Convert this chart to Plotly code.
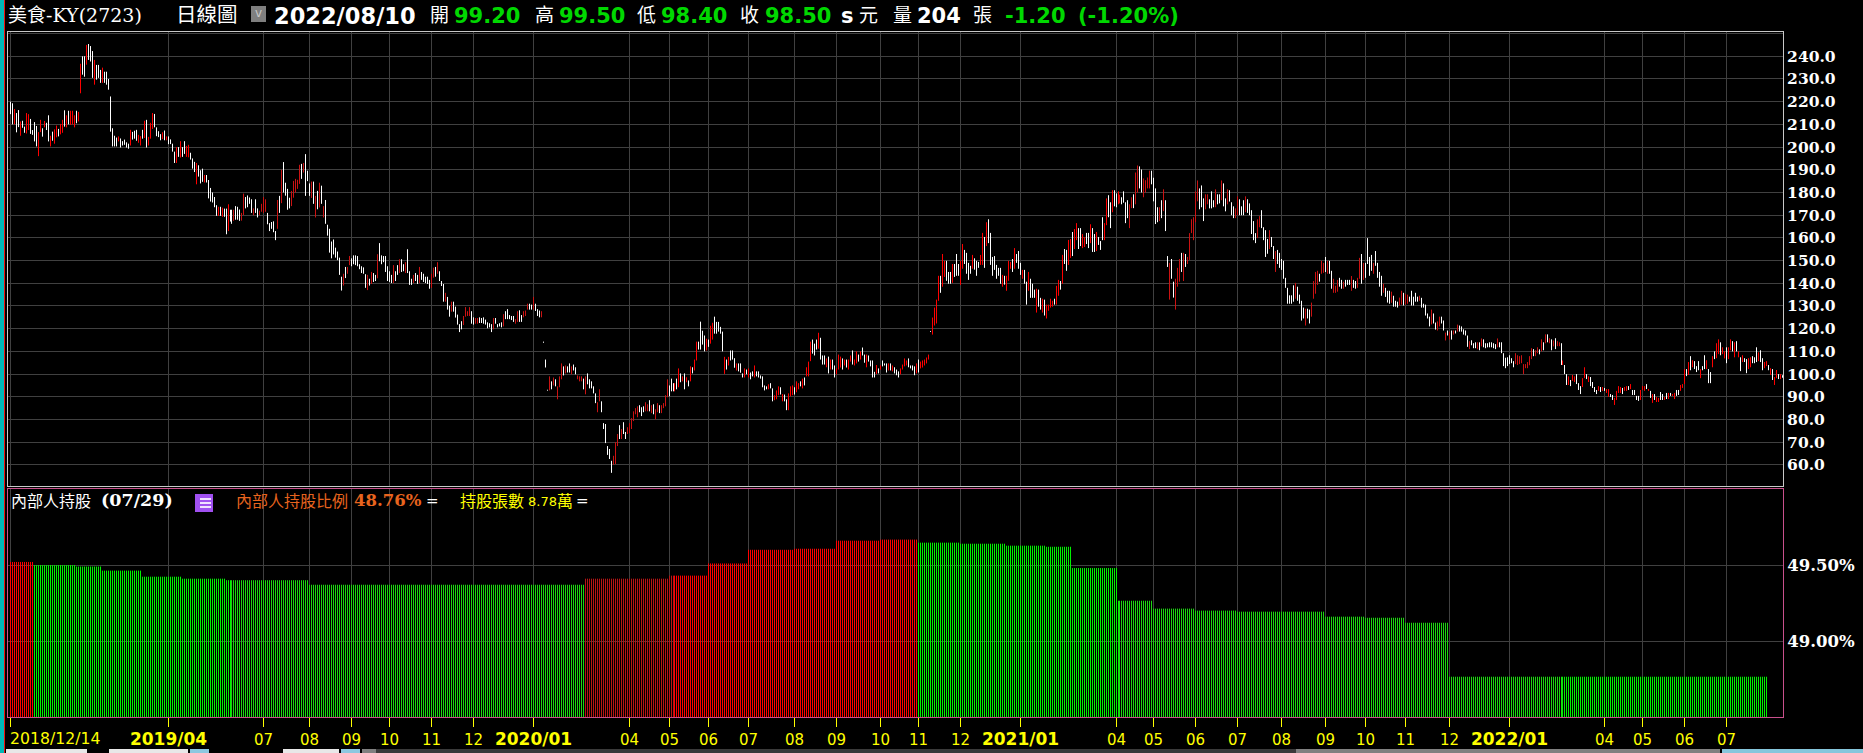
import numpy as np
import plotly.graph_objects as go

# ---------- daily price range (high, low) and candle colour, r = up, w = down ----------
high = [220,219.3,216.8,215,216.3,211.3,211.6,209,215,214.5,212.4,207.5,211,209.3,206.6,212,208.3,211.5,210.7,214]
low = [214.5,210,210,206.5,208.8,205,208.5,206.3,206,207.5,205.8,205.4,202.5,200.3,196,206.6,204.6,208.7,207.5,202.5]
flag = "wwrwwrwwrrwwwwrrwrww"
high += [205,206.8,207.8,209.5,208,210.2,212,216.2,214,216,216,216,214,216,215.5,236.7,240,240,245,245.4]
low += [200.3,202.8,201.5,204.3,204.7,205.6,206.3,209,208.7,210,209.8,210,208.7,210.5,211.3,223.7,231.9,231,236.3,238.4]
flag += "rwrrwrrwrwrrrwrrwwrw"
high += [244.5,242.3,238.4,236.2,236.2,234,235,233.2,233.2,230,222.3,208.3,205,204.2,204.7,203.8,202.6,203.3,202.1,201.5]
low += [237.7,230.5,227.5,229.7,230.5,228.3,228.3,228.3,227.5,225.3,206.8,200.3,200.3,200.3,202.5,199.8,200.7,201,199.8,199.3]
flag += "wwrwwwrwwwwwwwrwwwww"
high += [207.6,206.7,207.2,207.6,205.4,204.8,207.6,211.6,212,204.5,210.7,215,214.6,208.7,207,205.7,206.5,207.3,204.7,204.7]
low += [200.7,203.3,203.7,202.8,201.9,200.7,203.7,204,199.8,200.7,203.7,208,208.7,204.8,204.4,203,203.5,203,203,201.3]
flag += "rwwwrrwrwrrrwwwwrwrw"
high += [203.4,201.5,198,200,200,202.6,200,202.6,200.5,201,197.5,195,193.5,193,192,189.8,190.5,187.7,187.7,185.5]
low += [201.3,198,193,193,195.7,195.4,195.7,197,195.7,195.5,194.5,190.5,189,183.6,187,184,184.7,184.4,184.4,177.4]
flag += "wwwrwrwwrrwwwrwwwrww"
high += [182,180,178,174.4,173.7,173.7,173.3,172.9,172.9,174.8,172.4,172.4,172.4,174,173.7,172.5,171,179.5,178,178.7]
low += [176,175.6,173.5,169.7,169.7,169.7,169.3,169.3,161.6,163,167.2,166.2,167.5,168,168,167.5,167.6,170.1,173,173.5]
flag += "wwwwrwrwwrwwrwwwrrww"
high += [177.8,177,173,177,173,172,175,178,177,171,166.5,167,167.3,163,176.7,178.5,190,193.4,184.3,181.6]
low += [175,171,170,171,169,170,171.5,171,171.5,166,163,164,162.5,159,164,171,175.3,180,178.6,172.4]
flag += "wwrwwrrrrwwwwwrwrwww"
high += [177.7,180.7,185.1,186,185.6,192.2,192.6,193,196.9,189.6,184,184.8,184.8,178.5,180.7,184.3,183,174,176.7,165.8]
low += [173,174,177.7,180,181.6,183.8,186,188.8,178.5,185,178.5,177.6,175,169,172.6,173.4,175,169,166.2,161]
flag += "wrrrrrwrwwwrwrwrwrww"
high += [164,158.4,159.3,155.7,154,151.3,142.9,144.2,147.2,147.2,152,151,152.3,152.3,152,148.4,147.5,147,144,143.7]
low += [153.5,151,152.7,151.3,150.2,143.7,136.8,139,142.3,144.2,148,147.5,148.4,148,147.5,146.2,144.5,144.2,138,137]
flag += "wwwwwwwrwrrwwwwwwwwr"
high += [142,145,144.5,143.7,152.8,157.7,152.3,152,152,147.5,145.3,143.7,148,145.3,148,150.6,150.6,148.4,149.3,155]
low += [139,139.7,140.6,141,142.2,149.7,148.4,149.3,145,141,140.6,140.1,140.1,141,143.7,144.5,145,145.3,144.5,144.5]
flag += "wrwwrwwwwwwwrwwrwwrw"
high += [145.3,142,143.7,144.5,143.7,147.2,145,144.2,142.9,142.9,141.5,144.2,146.9,147.2,149.3,145.3,141,139.7,135.8,134]
low += [139.3,139.3,140.1,141,139.7,140.1,141.5,140.6,140.1,139.7,137.6,138,142.5,142.9,144.2,141,138.8,131.9,131.9,128.4]
flag += "wwrwwrwwwwwrrwrwwwrw"
high += [130.1,131.9,131.9,129.7,126.2,122,123.3,125.6,129.5,127.7,129.5,127.7,125,124.7,124.7,125,124.7,125,124,122.8]
low += [125.3,127.5,127.5,124.9,121.8,118.5,119.7,121.6,125.3,125.6,125.6,122.2,121.8,122.2,122.2,122.5,122.5,122.2,121.8,120.2]
flag += "wrwwwwwrrrrwwrrwwwww"
high += [122.4,122,124.7,124.7,122,122.4,122.8,126.4,127.7,128.6,126,125.6,125.6,124.2,127.7,128.1,126,127.7,128,131]
low += [120.6,118.5,119.7,122.2,120.6,121,120.6,121,124.2,124.2,124.2,123.8,123,122.2,123,123,123,125,125.6,128.4]
flag += "wwrwwwwrwwwwwrrwwrrr"
high += [131,130.6,134,131,128.6,128,127.7,114.3,106.4,93.1,99,96.8,98.5,97.7,94.6,99,104.7,103.4,103.8,103.4]
low += [128.4,128.4,128.4,127.8,125.6,125,125,113.8,102.9,92.7,92.8,93.3,95,94.6,88.9,94.2,97.7,99.4,100.3,100.7]
flag += "wwrwwwrwwwrwrwrrrwrw"
high += [104.7,103.4,104.2,103,99.4,99,99,98,99,100.3,97.7,96.8,94.6,91.5,87.6,93.3,88,78.4,78,68.3]
low += [100.7,99.9,101.6,99.9,97.7,96.8,96.8,93.3,91.1,95.5,93.7,93.7,91.5,87.2,83.2,88,83.2,75.8,69.6,64.4]
flag += "wrwwrrrwrwwwwwrrwwww"
high += [67,61.8,64,70,73.6,77.5,75.8,78.8,74.5,76.6,78.4,80.6,83.6,85,85.8,86.3,85.4,85.8,87.6,86.7]
low += [62.6,56.5,60,60.4,68.3,71.4,71.4,73.6,71.4,73.6,74,75.8,79.3,82.3,81,83.2,81.5,83.2,83.6,83.6]
flag += "wwrrrwrwwrrrrrrwwwrr"
high += [88.5,86.3,86.7,84.5,87.2,86.3,86.3,87.2,90.7,97.7,95,98,96,96,98,102.5,100.3,99,100.3,98.6]
low += [83.6,82.8,82.3,80.1,83.2,82.8,82.8,85,85.8,89.8,90.2,92.4,92.4,92.4,93.3,94.2,96.4,96.8,93.3,96.4]
flag += "wrwrrwrrrrwwwrwrwrwr"
high += [97.2,103.4,103,106.4,114.3,114.3,123.1,119.1,117,115.6,115.2,121.3,122.6,125.3,123,123,120.8,118.7,107.6,106.4]
low += [94.6,96.8,100.3,101.6,106,110.8,110.8,113,110,110.4,112,113.4,115.2,117.8,117.8,118.7,117.8,110,100.1,102]
flag += "wrwrrwwwwrwrrwwwwwrw"
high += [107.6,110.4,110.4,107,104.7,104.7,104.7,100.3,102.5,102,102.5,100.7,101.2,103.8,101.2,101.2,99.4,99,95,94.6]
low += [103.8,106,106.4,102.8,101.6,101.2,100.6,98.5,98.5,99.9,98.5,97.7,99,98.5,99,98.5,98,94.2,92.8,93.3]
flag += "rwwwrwwwrwrwwrwwwwww"
high += [95.5,96,93.7,90.7,92.8,94.6,94.2,91.2,91,88.9,91.5,94.6,95,94.2,96.8,96,96.8,98,98.5,103]
low += [93.3,93.7,88,88.5,88.9,90.7,91,88,88,84.1,84.1,90.2,90.7,91,92,93.3,94.6,93.7,95,99]
flag += "rwwrrrwrwwrrrwrrwrwr"
high += [105.5,114.3,115.2,113.4,115.2,118.2,116,108.2,108.2,106.9,107.7,106.4,106.4,103.8,102.5,108.6,107.7,106.9,106.4,106.4]
low += [99,105.7,109,108.2,110.8,111.2,106.4,104.2,104.2,103,100.3,102,102,98.5,99.9,102,102.9,102,103.8,102.9]
flag += "rrwwwrwwwrwrwwrrrwrw"
high += [106.4,108.2,110.4,106.4,110,108.6,110,111.7,108.6,108.6,108.2,106,106,101,104,102.5,103.8,106,104.7,104.7]
low += [102,105.5,104.2,103.8,104.7,105.5,106.4,108.2,105,103,105.5,103.4,98.5,98.5,100,100.3,102,103.4,103.8,100.7]
flag += "rrwrrwrwwrwwwwrwrwww"
high += [104.7,104.7,103.8,103,102,101.2,102.5,104.2,106.9,106,106.9,103.8,103.8,103.4,104.7,106.4,105.5,106,106.4,107.3]
low += [101.6,101.6,101.2,100.3,99.5,98.5,99.9,102,103.4,103.8,103,102.5,101.6,99.5,100.3,100.7,102.5,102.9,103.8,104.7]
flag += "rwrwwwrrrrwwwwrwrrrr"
high += [108.6,119,124.9,129.3,132.8,143.3,143.3,152.9,149.9,149.9,145,145,148.5,148.5,152.9,148.5,149.9,157.3,154.7,153.4]
low += [106.4,118.6,117.4,121.4,122.3,132.3,135.8,138.5,142.8,141.1,139.8,139.8,140.2,142.8,143.3,143.3,139.3,146.4,148.5,144.2]
flag += "rwrrrrwrrwwwrwwwrrww"
high += [149,147.7,152.5,151,149.9,149.4,152.5,162.2,160.4,166.9,168.2,162.2,151.6,152,148.1,146.8,146.8,143.7,143.3,143.3]
low += [141.5,144.2,146.4,146,143.3,146.8,148.1,148.1,146.8,156.4,157.7,148.1,143.3,145.9,142,143.3,139.8,138.5,139.4,136.7]
flag += "wwrwwwrrwrwwwwwwwrwr"
high += [149.9,149.4,150.7,155.5,152.9,154.2,149,145.9,145.9,140.7,145,142,139.8,137.2,137.6,137.2,133.6,133.2,132.8,130.6]
low += [141.1,146.4,145,146.4,149,146.4,143.7,142,139.8,130.6,136.7,133.6,133.6,133.6,127.1,129.7,128.4,127.1,125.8,124.5]
flag += "rrwrwwwrwwrwwwrwwrwr"
high += [130.6,133.2,132.3,133.2,138.9,141.5,141,152.5,155.1,154.7,159.1,159.5,162.6,163.9,166.5,164.3,164.3,161.7,160.4,162.2]
low += [127.9,129.3,129.7,130.6,130.6,134.5,137.2,139.8,148.5,145.5,148.1,151.2,152,155.1,159,155.1,156.4,155.5,156,157.3]
flag += "rrrwrrwrwwrrwrrwwrrw"
high += [162.2,166,164.3,161.7,162.6,160.4,158.6,169.1,166.5,177.4,178.8,175.7,181,181,179.6,180.5,179,177.9,180.5,175.7]
low += [155.5,157.7,153.8,153.8,154.2,156.9,154.7,159,159,165.6,169.1,164.3,171.3,173.9,173.5,174.8,175.2,174.8,175.5,166.5]
flag += "wrwwrwwwrrwwrwwrrwww"
high += [176.6,174.8,177.9,179.2,188.8,191.9,191.5,190.1,186.2,185.4,186.6,189.6,189.6,186.5,181.8,173.5,173.5,176.6,181.4,176.6]
low += [168.7,164.3,173.1,173.1,174.8,180,181.8,180,177.9,180,181.8,181.8,183.6,176.1,166.1,166.9,167.4,168.7,171.8,163]
flag += "wrrwrrwwrrrrwwwwrwrw"
high += [152,149,150.7,140.7,142,146.8,150.7,153.4,153.4,152.9,151.6,162.1,168.2,169.1,180.5,185.3,181.8,183.1,177.4,179.2]
low += [147.2,132.8,142,133.7,128.4,138.5,140.7,145,141,147.2,148.5,150.3,162.1,159,166.9,176.1,172.6,173.5,167.4,172.6]
flag += "wrwwrrrwrwrrrrrrwwwr"
high += [179.2,177,180.5,176.6,181.4,179.2,179.2,185.3,184,177.4,181.4,181,175.7,173.9,173,178.3,177,173.9,176.6,178.3]
low += [174.8,173,173,173.5,173.5,174.8,175.2,176.6,173.9,171.7,174.8,176,170,168.7,168.7,170,170,170,170,171.3]
flag += "rwwwrwwrwwrwwwrrwwwr"
high += [177,175.2,172.2,167.4,162.1,168.2,169.6,172.2,164.7,163.4,159.5,163.4,160.4,156.4,154.2,154.7,153.4,150.7,149.9,142.4]
low += [171,170,161.7,159,157.7,159.9,164.7,164.3,159,151.6,153,155.1,156,150.7,145,148.5,146.8,145.9,142,138]
flag += "wwwwwrrwwwwrwwrwwwww"
high += [138,134.7,134.7,139.1,140.2,138.5,135,132.3,129.3,128.8,128.8,128.4,131.5,141,145,145.5,144.2,149.9,149,151.6]
low += [131,131,131,131.9,133.2,132.3,131,123.6,124.5,121.4,124.5,122.3,125.3,133.2,135.4,139.3,140.7,144.2,144.6,145]
flag += "wwwwrwwwwrwwrrrrwrrw"
high += [149.9,149.9,145.5,142,138.9,141.5,142.4,141.5,140.7,141.5,141.5,141.5,143.2,141.5,141,142.4,151.2,152.9,149,149]
low += [144.2,144.2,137.6,135.8,135.8,136.3,138.5,137.6,137.6,138.5,139.3,139.3,136.7,138,137.6,138,142,139.8,141.5,142.4]
flag += "rwwrrrwwrwwwrwwrrwrw"
high += [159.9,151.6,152.5,149,154.2,149,145,143.3,139.8,138,136.7,136.7,136.3,134.5,132.3,131.9,133.7,136.7,135.8,135.4]
low += [148.5,143.3,145.5,144.2,147.7,142.4,138.5,134.5,135.8,134,131.5,131,131.4,129.7,129.7,129.3,130.2,130.6,130.2,130.6]
flag += "wwwrwwwwrwwwrwwwrrwr"
high += [135,134.1,136.7,134.1,135.8,134.1,134.5,133.6,131,130.6,126.7,125.3,128.4,126.7,122.7,123.2,125.3,125.3,123.6,118.3]
low += [131,131.9,130.2,130.2,131.9,131.9,132.3,129.3,129.3,125.8,124.5,121,121.9,122.3,119.6,119.2,121,122.3,119.2,114.8]
flag += "rwwwwwrwwwwwrwwrrwwr"
high += [119.2,118.7,119.2,119.2,119.2,121.8,121.4,121,119.7,119.2,117,114.5,114.9,113.6,114,114,114,115.7,115.3,113.6]
low += [117,115.2,115.2,117.4,117.9,118.7,118.7,118.7,117.4,117,112,111,112.7,111.4,111.4,110.9,110.5,112.2,111.8,111.4]
flag += "wrwrwrwwwwwrwwwrwrww"
high += [113.6,114,114,113.6,113.2,115.7,114,114,109.2,107.2,107.4,108.3,107,105.7,109.2,108.3,107.9,108.3,104.4,104.4]
low += [111.8,111.8,111.8,111.4,111,111.8,111.8,109.2,103.5,102.6,103.5,104.4,104.8,103,104.4,104,104.4,104.8,100,102.6]
flag += "wwwwwrwwwwwwwwrrrrrr"
high += [105.3,107.9,111.4,111,110.5,111.8,110.9,115.3,114,117.5,117.5,115.8,115.3,114.8,115.8,114.5,114,113.6,106,104]
low += [102.6,103.9,106.6,107.9,107.9,109.2,108.7,110,110.5,113.6,114,113.6,110.5,112.2,111,112.3,112.3,104,104,100]
flag += "rrrwrrwrwrwrwrwrrwrw"
high += [100,99,97.4,99.6,99,100,96,94.7,98.2,103,100,99,98.7,96.5,94.3,93,94.7,94.3,94.3,93.9]
low += [95.2,95.2,94.7,97,96.5,95.6,93,91.2,94.3,98.2,97.8,96.5,94.7,93.9,92.1,91.2,92.6,92.1,92.6,92.6]
flag += "wrwrrwwwrrwrwwwwrwrw"
high += [93.4,93.4,91.2,90.8,89.5,92.6,94.7,94.3,93.9,94.3,94.7,94.7,95.6,93,93,90.4,90.4,93,94.7,94.7]
low += [91.7,90,89.9,88.6,86.4,88.6,91.7,91.7,91.2,92.6,92.6,93,93.4,90.8,90.8,88.6,88.2,88.6,93,92.6]
flag += "rrwwrrrrwrrwrwwwwrrr"
high += [95.6,93.4,92.6,91.2,91.2,89.9,89.5,92.1,91.2,89.9,91.7,91.7,91.7,91.2,91.7,93,93,95.2,95.6,102.2]
low += [93.4,92.6,89.5,87.3,88.6,87.7,87.7,88.6,88.6,88.6,89,89,90.4,90.4,89,90.4,90.8,92.6,93.9,95.6]
flag += "wrwrwrrwwrwrwrrwwrrr"
high += [102.2,105.3,107.9,106.1,105.7,103.5,105.7,102.2,103.5,108.3,106.1,102.2,100.9,107.9,110,113.6,115.3,114,111.8,110]
low += [99.1,99.6,101.7,103,102.2,100.9,101.7,98.2,101.7,102.2,102.2,96,96,103,106.6,107,108.8,108.3,108.8,106.9]
flag += "wrwrwwwrwwrwwrwrrwrr"
high += [111.8,111.8,115.3,114.5,114,114.5,110,107.4,108.3,107,106.6,107,107.4,107.9,107.4,111.8,109.6,110.5,107,105.3]
low += [104.8,106.6,110.5,110,107.4,110,107.4,101.3,105.3,105.3,100.4,102.2,103,104.8,104.8,105.3,105.7,105.3,101.7,102.6]
flag += "wrrwrwrwrwwrrwwwrwwr"
high += [105.7,104,102.6,102.2,98.7,101.8,100,100,99.5]
low += [103.5,101.7,99.6,97.4,95.2,98.2,97.8,97.8,98.4]
flag += "rwrwrrwrw"

# ---------- insider holding ratio, one level per reporting month ----------
holding_pct = [49.52,49.50,49.49,49.463,49.423,49.41,49.40,49.37,49.41,49.43,49.51,49.60,49.607,49.66,49.667,49.647,49.64,49.627,49.62,49.48,49.265,49.213,49.20,49.193,49.16,49.153,49.12,48.765]
holding_days = [12,21,13,20,20,22,42,138,42,20,20,23,21,22,19,21,23,20,13,23,18,21,21,44,20,20,22,160]
holding_dir = "rggggggg" + "rrrrrrr" + "ggggggggggggg"

# ---------- axes ----------
month_idx = [0,79,127,150,171,190,211,232,262,310,330,350,370,393,414,436,455,476,506,554,573,594,615,637,659,679,699,721,751,799,818,839,860]
YR = '<b><span style="font-size:17px">%s</span></b>'
month_lbl = ["",YR%"2019/04","07","08","09","10","11","12",YR%"2020/01","04","05","06","07","08","09","10","11","12",YR%"2021/01","04","05","06","07","08","09","10","11","12",YR%"2022/01","04","05","06","07"]
price_ticks = [60,70,80,90,100,110,120,130,140,150,160,170,180,190,200,210,220,230,240,250]
price_lbl = ["%.1f" % v for v in price_ticks[:-1]] + [""]
pct_ticks = [49.0,49.5]
pct_lbl = ["49.00%","49.50%"]

W, H = 1863, 753
L, R = 8, 1783
T1, B1, T2, B2 = 32, 486, 489, 717
GRID = "#404040"
SERIF = "DejaVu Serif, Noto Sans CJK TC"
SANS = "DejaVu Sans, Noto Sans CJK TC"

def column(i):
    # the chart packs 1 bar into a little under 2 pixels
    return np.floor(10.498 + np.asarray(i) * 1.9955) + 0.5

def segs(xs, y0, y1):
    x, y = [], []
    for a, b, c in zip(xs, y0, y1):
        x += [a, a, None]
        y += [b, c, None]
    return x, y

def add_lines(fig, xs, y0, y1, color, xa, ya):
    if not len(xs):
        return
    x, y = segs(xs, y0, y1)
    fig.add_trace(go.Scatter(x=x, y=y, mode="lines", xaxis=xa, yaxis=ya,
                             line=dict(color=color, width=1, simplify=False),
                             connectgaps=False, hoverinfo="skip", showlegend=False))

fig = go.Figure()

# candles
assert len(high) == len(low) == len(flag) == 889, (len(high), len(low), len(flag))
cols = column(np.arange(len(high)))
up = np.array([c == "r" for c in flag])
even = (np.floor(cols).astype(int) % 2 == 0)
hi, lo = np.array(high, float), np.array(low, float)
add_lines(fig, cols[~up], hi[~up], lo[~up], "#ffffff", "x", "y")
add_lines(fig, cols[up & even], hi[up & even], lo[up & even], "#ff0000", "x", "y")
add_lines(fig, cols[up & ~even], hi[up & ~even], lo[up & ~even], "#cc1212", "x", "y")

# insider holdings
assert len(holding_pct) == len(holding_days) == len(holding_dir), (len(holding_pct), len(holding_days), len(holding_dir))
pct = np.repeat(holding_pct, holding_days)
pdir = np.repeat(list(holding_dir), holding_days)
pcols = column(np.arange(len(pct)))
peven = (np.floor(pcols).astype(int) % 2 == 0)
base = np.full(len(pct), 48.5)
for d, bright, dim in (("r", "#ff0000", "#b81414"), ("g", "#00f000", "#1cd810")):
    m = pdir == d
    add_lines(fig, pcols[m & peven], pct[m & peven], base[m & peven], bright, "x2", "y2")
    add_lines(fig, pcols[m & ~peven], pct[m & ~peven], base[m & ~peven], dim, "x2", "y2")

tickx = column(month_idx).tolist()
common_x = dict(range=[L, R], domain=[L / W, R / W], showline=True, mirror=True, linewidth=1,
                showgrid=True, gridcolor=GRID, gridwidth=1, zeroline=False, tickmode="array", tickvals=tickx)
common_y = dict(side="right", showline=True, mirror=True, linewidth=1, showgrid=True, gridcolor=GRID, gridwidth=1,
                zeroline=False, tickmode="array", ticks="", ticklabelposition="outside", ticklabelstandoff=0)

fig.update_layout(
    width=W, height=H, margin=dict(l=0, r=0, t=0, b=0, autoexpand=False),
    paper_bgcolor="#000000", plot_bgcolor="#000000", showlegend=False, hovermode=False,
    xaxis=dict(common_x, anchor="y", linecolor="#c8c8c8", showticklabels=False, ticks=""),
    yaxis=dict(common_y, anchor="x", domain=[1 - B1 / H, 1 - T1 / H], range=[50.7, 250.7], linecolor="#c8c8c8",
               tickfont=dict(family=SERIF, size=15.5, color="#ffffff"),
               tickvals=price_ticks, ticktext=["<b>%s</b>" % s if s else "" for s in price_lbl]),
    xaxis2=dict(common_x, anchor="y2", linecolor="#c8508c", ticks="outside", ticklen=9, tickwidth=1,
                tickcolor="#ffff00", ticktext=month_lbl, showticklabels=True,
                tickfont=dict(family=SANS, size=15, color="#ffff00"), tickangle=0),
    yaxis2=dict(common_y, anchor="x2", domain=[1 - B2 / H, 1 - T2 / H], range=[48.5, 50.0], linecolor="#c8508c",
                tickfont=dict(family=SERIF, size=16.5, color="#ffffff"),
                tickvals=pct_ticks, ticktext=["<b>%s</b>" % s for s in pct_lbl]),
)

# header texts: text, left pixel, centre y pixel, colour, size, family
texts = [
    ("美食-KY(2723)", 7, 15, "#ffffff", 19, SERIF),
    ("日線圖", 175, 15, "#ffffff", 20.5, SANS),
    ("<b>2022/08/10</b>", 273, 16, "#ffffff", 22.5, SANS),
    ("開", 429, 15, "#ffffff", 19, SANS),
    ("<b>99.20</b>", 453, 16, "#00d800", 21, SANS),
    ("高", 534, 15, "#ffffff", 19, SANS),
    ("<b>99.50</b>", 558, 16, "#00d800", 21, SANS),
    ("低", 636, 15, "#ffffff", 19, SANS),
    ("<b>98.40</b>", 660, 16, "#00d800", 21, SANS),
    ("收", 739, 15, "#ffffff", 19, SANS),
    ("<b>98.50</b>", 764, 16, "#00d800", 21, SANS),
    ("<b>s</b>", 840, 16, "#ffffff", 21, SANS),
    ("元", 858, 15, "#ffffff", 19, SANS),
    ("量", 892, 15, "#ffffff", 19, SANS),
    ("<b>204</b>", 916, 16, "#ffffff", 21, SANS),
    ("張", 972, 15, "#ffffff", 19, SANS),
    ("<b>-1.20</b>", 1004, 16, "#00d800", 21, SANS),
    ("<b>(-1.20%)</b>", 1077, 16, "#00d800", 21, SANS),
    ("內部人持股", 10, 501, "#ffffff", 16, SANS),
    ("<b>(07/29)</b>", 100, 500, "#ffffff", 17.5, SERIF),
    ("內部人持股比例", 235, 501, "#e8641e", 16, SANS),
    ("<b>48.76%</b>", 353, 500, "#e8641e", 16.5, SERIF),
    ("=", 425, 501, "#ffffff", 15, SANS),
    ("持股張數", 459, 501, "#ffff00", 16, SANS),
    ("8.78", 527, 501, "#ffff00", 13, SANS),
    ("萬", 556, 501, "#ffff00", 16, SANS),
    ("=", 575, 501, "#ffffff", 15, SANS),
    ("2018/12/14", 9, 738, "#ffff00", 15.7, SANS),
]
fig.update_layout(annotations=[
    dict(text=t, x=px / W, y=1 - py / H, xref="paper", yref="paper", xanchor="left", yanchor="middle",
         showarrow=False, borderpad=0, font=dict(color=c, size=s, family=f))
    for t, px, py, c, s, f in texts
] + [dict(text="v", x=258.5 / W, y=1 - 13.5 / H, xref="paper", yref="paper", xanchor="center", yanchor="middle",
          showarrow=False, borderpad=0, font=dict(color="#c8c8c8", size=12, family=SANS))])

# window chrome around the chart
chrome = [
    (0, 0, 4, 753, "#00b8b8"), (4, 0, 5, 753, "#f01010"),
    (251, 6, 266, 22, "#7f7f7f"),
    (195, 494, 213, 512, "#a050f0"), (200, 498, 211, 500, "#f0e0ff"), (200, 502, 211, 504, "#f0e0ff"), (200, 506, 211, 508, "#f0e0ff"),
    (6, 749, 87, 753, "#e8e8e8"), (109, 749, 188, 753, "#e8e8e8"), (190, 749, 209, 753, "#8cc8e0"),
    (283, 749, 339, 753, "#e8e8e8"), (341, 749, 360, 753, "#8cc8e0"), (362, 749, 376, 753, "#808080"),
    (376, 749, 1296, 753, "#3a3a3a"), (1296, 749, 1720, 753, "#808080"), (1722, 749, 1863, 753, "#86c6dc"),
]
fig.update_layout(shapes=[
    dict(type="rect", xref="paper", yref="paper", x0=a / W, x1=c / W, y0=1 - b / H, y1=1 - d / H,
         fillcolor=col, line=dict(width=0), layer="below")
    for a, b, c, d, col in chrome
])

fig.write_html("out.html", config=dict(displayModeBar=False),
               post_script="document.body.style.margin='0';document.body.style.background='#000';document.body.style.overflow='hidden';")
